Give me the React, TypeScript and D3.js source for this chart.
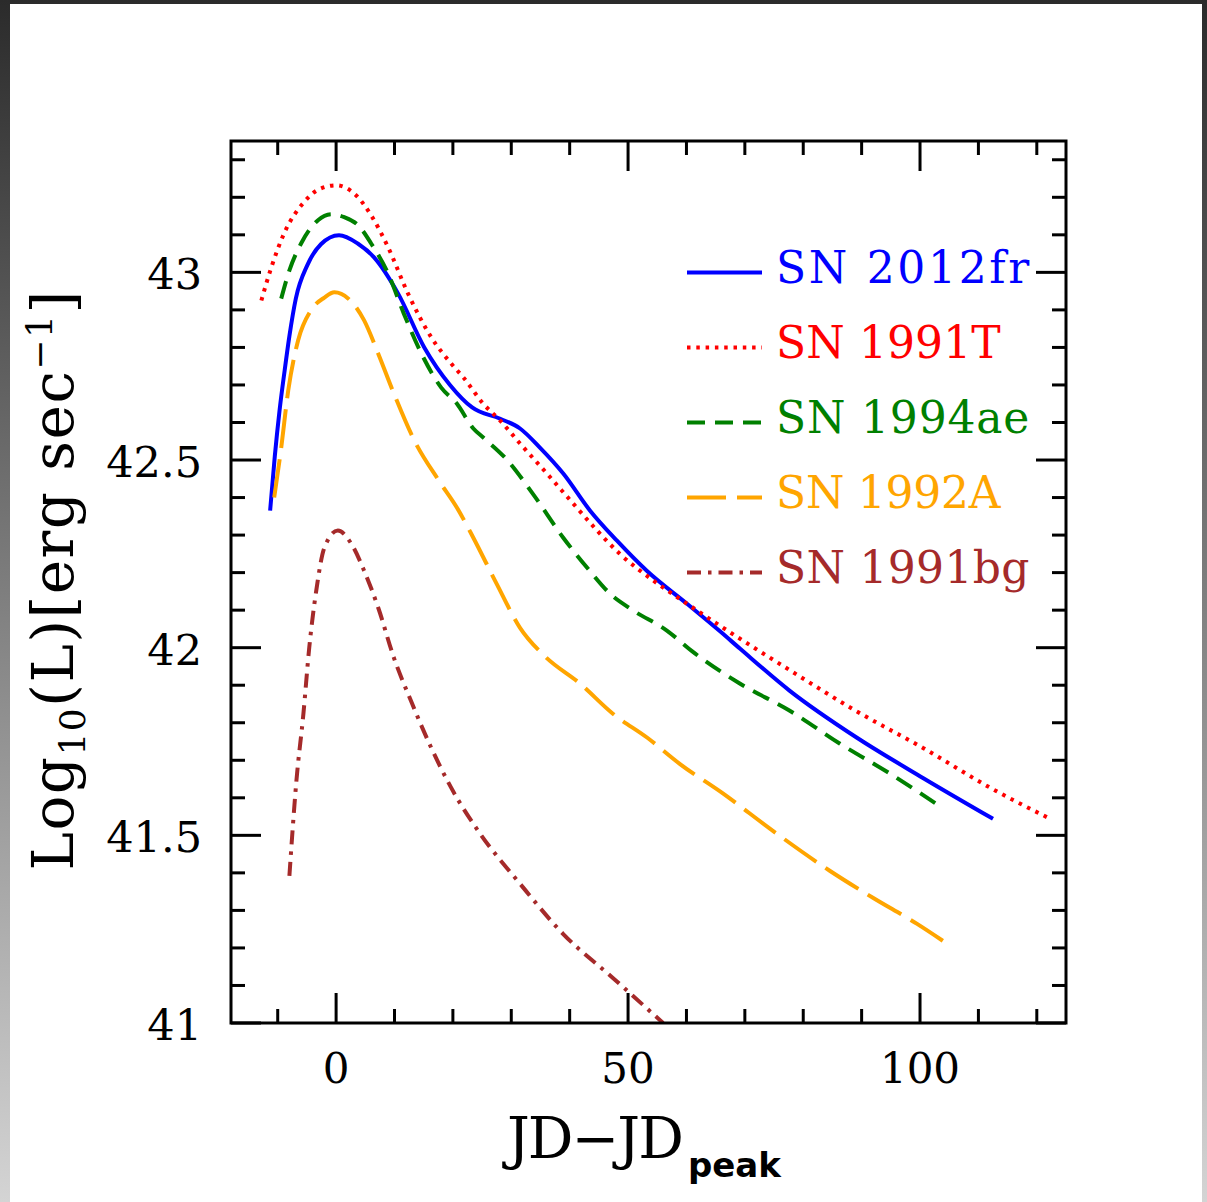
import React from "react";
import * as d3 from "d3";

const W = 1207;
const H = 1202;

// ---- data ----
const t2012fr = [-11.3, -10.5, -9.7, -8.8, -8, -6.9, -4.9, -2.6, 0.5, 3.7, 6.5, 10.6, 15.1, 19.5, 23.3, 28.1, 31.5, 34.9, 38.9, 43.5, 48.1, 53.2, 60.1, 65.8, 69.2, 77.7, 89.2, 100.5, 112.5];
const L2012fr = [42.365, 42.51, 42.63, 42.74, 42.83, 42.93, 43.02, 43.075, 43.099, 43.077, 43.04, 42.944, 42.8, 42.7, 42.64, 42.61, 42.584, 42.533, 42.464, 42.365, 42.285, 42.205, 42.117, 42.043, 41.997, 41.885, 41.76, 41.653, 41.544];

const t1991T = [-12.8, -11.1, -8.9, -5.5, -3.1, 0, 3.1, 6.0, 8.9, 12.3, 16.3, 19.7, 21.8, 25.2, 28.1, 31.5, 36.1, 40.6, 44.7, 48.6, 54.3, 60.1, 65.2, 77.7, 89.2, 100.5, 112, 122.3];
const L1991T = [42.925, 43.013, 43.104, 43.187, 43.22, 43.232, 43.21, 43.152, 43.067, 42.944, 42.827, 42.757, 42.72, 42.65, 42.605, 42.544, 42.464, 42.384, 42.312, 42.25, 42.179, 42.117, 42.064, 41.94, 41.83, 41.733, 41.627, 41.544];

const t1994ae = [-9.4, -8, -6, -3.1, -0.8, 1.4, 3.8, 6, 8.9, 11.6, 14.6, 18, 20.7, 23.5, 25.2, 29.3, 33.7, 38.9, 43, 46.9, 50.9, 56.7, 61, 69.2, 77.7, 86.3, 94.9, 103.8];
const L1994ae = [42.93, 43.005, 43.077, 43.139, 43.155, 43.147, 43.125, 43.077, 42.997, 42.89, 42.784, 42.693, 42.65, 42.584, 42.56, 42.5, 42.41, 42.293, 42.213, 42.144, 42.099, 42.045, 41.99, 41.904, 41.832, 41.744, 41.664, 41.573];

const t1992A = [-10.6, -9.4, -8.2, -6.5, -4.3, -2, -0.3, 2.1, 4.8, 7.2, 9.9, 13.4, 17.6, 20.7, 23.5, 27.5, 31.5, 35.7, 41.8, 47.4, 53.3, 58.9, 66.3, 74.8, 84.6, 92, 99.5, 103.9];
const L1992A = [42.4, 42.533, 42.685, 42.819, 42.899, 42.933, 42.947, 42.93, 42.872, 42.784, 42.677, 42.552, 42.445, 42.373, 42.293, 42.17, 42.053, 41.978, 41.904, 41.824, 41.76, 41.69, 41.611, 41.512, 41.405, 41.333, 41.264, 41.219];

const t1991bg = [-8, -6.8, -5.6, -4.6, -3.4, -2, 0.3, 2.6, 4.8, 7.2, 9.9, 12.8, 16.3, 19.7, 24.5, 31.5, 38.9, 47.4, 56];
const L1991bg = [41.392, 41.645, 41.824, 42.0, 42.152, 42.267, 42.312, 42.277, 42.205, 42.107, 41.973, 41.859, 41.733, 41.627, 41.508, 41.371, 41.237, 41.12, 41.0];

const seriesNames = ["SN 2012fr", "SN 1991T", "SN 1994ae", "SN 1992A", "SN 1991bg"];
const seriesT = [t2012fr, t1991T, t1994ae, t1992A, t1991bg];
const seriesL = [L2012fr, L1991T, L1994ae, L1992A, L1991bg];
const seriesColors = ["#0000ff", "#ff0000", "#008000", "#ffa500", "#a52a2a"];
const seriesDash = ["none", "3.5,5.8", "18,10", "39,11", "14,7,3.5,7"];

const xDomain = [-18, 125];
const yDomain = [41, 43.35];
const xMajorTicks = [0, 50, 100];
const xTickLabels = ["0", "50", "100"];
const xMinorTicks = [-10, 10, 20, 30, 40, 60, 70, 80, 90, 110, 120];
const yMajorTicks = [41, 41.5, 42, 42.5, 43];
const yTickLabels = ["41", "41.5", "42", "42.5", "43"];
const yMinorTicks = [41.1, 41.2, 41.3, 41.4, 41.6, 41.7, 41.8, 41.9, 42.1, 42.2, 42.3, 42.4, 42.6, 42.7, 42.8, 42.9, 43.1, 43.2, 43.3];

// ---- layout ----
const PL = 231, PR = 1066, PT = 141, PB = 1023;
const MAJ = 30, MIN = 14;

export default function App() {
  const x = d3.scaleLinear().domain(xDomain).range([PL, PR]);
  const y = d3.scaleLinear().domain(yDomain).range([PB, PT]);

  const paths = seriesT.map((ts, s) => {
    const pts: [number, number][] = ts.map((t, i) => [x(t), y(seriesL[s][i])]);
    return d3.line().curve(d3.curveMonotoneX)(pts) || "";
  });

  const serif = "'DejaVu Serif', serif";
  const legX0 = 687, legX1 = 762, legTextX = 776, legY0 = 272.5, legDY = 75;

  return (
    <div style={{ position: "absolute", left: 0, top: 0 }}>
      <svg width={W} height={H} viewBox={`0 0 ${W} ${H}`} style={{ display: "block" }}>
        <defs>
          <linearGradient id="bg" x1="0" y1="0" x2="0" y2="1">
            <stop offset="0" stopColor="#2b2b2b" />
            <stop offset="1" stopColor="#d4d4d4" />
          </linearGradient>
          <clipPath id="plotclip">
            <rect x={PL} y={PT} width={PR - PL} height={PB - PT} />
          </clipPath>
        </defs>
        <rect x={0} y={0} width={W} height={H} fill="url(#bg)" />
        <rect x={10} y={4} width={1192} height={H - 4} fill="#ffffff" />

        {/* curves */}
        <g clipPath="url(#plotclip)" fill="none">
          {paths.map((d, s) => (
            <path
              key={s}
              d={d}
              stroke={seriesColors[s]}
              strokeWidth={4}
              strokeDasharray={seriesDash[s]}
              strokeLinejoin="round"
            />
          ))}
        </g>

        {/* frame */}
        <rect x={PL} y={PT} width={PR - PL} height={PB - PT} fill="none" stroke="#000" strokeWidth={3} />

        {/* ticks */}
        <g stroke="#000" strokeWidth={3}>
          {xMajorTicks.map((v) => (
            <g key={"xm" + v}>
              <line x1={x(v)} x2={x(v)} y1={PB} y2={PB - MAJ} />
              <line x1={x(v)} x2={x(v)} y1={PT} y2={PT + MAJ} />
            </g>
          ))}
          {xMinorTicks.map((v) => (
            <g key={"xn" + v}>
              <line x1={x(v)} x2={x(v)} y1={PB} y2={PB - MIN} />
              <line x1={x(v)} x2={x(v)} y1={PT} y2={PT + MIN} />
            </g>
          ))}
          {yMajorTicks.map((v) => (
            <g key={"ym" + v}>
              <line x1={PL} x2={PL + MAJ} y1={y(v)} y2={y(v)} />
              <line x1={PR} x2={PR - MAJ} y1={y(v)} y2={y(v)} />
            </g>
          ))}
          {yMinorTicks.map((v) => (
            <g key={"yn" + v}>
              <line x1={PL} x2={PL + MIN} y1={y(v)} y2={y(v)} />
              <line x1={PR} x2={PR - MIN} y1={y(v)} y2={y(v)} />
            </g>
          ))}
        </g>

        {/* tick labels */}
        <g fontFamily={serif} fill="#000">
          {xMajorTicks.map((v, i) => (
            <text key={"xl" + v} x={x(v)} y={1083} fontSize={42} textAnchor="middle">
              {xTickLabels[i]}
            </text>
          ))}
          {yMajorTicks.map((v, i) => (
            <text key={"yl" + v} x={202} y={y(v) + 17} fontSize={43} textAnchor="end">
              {yTickLabels[i]}
            </text>
          ))}
        </g>

        {/* axis titles */}
        <text x={507} y={1158} fontFamily={serif} fontSize={57} letterSpacing={-2} fill="#000">
          JD−JD
          <tspan dx={6} dy={19} fontFamily="'DejaVu Sans', sans-serif" fontWeight="bold" fontSize={34} letterSpacing={0}>
            peak
          </tspan>
        </text>
        <text
          transform="translate(73,580) rotate(-90)"
          textAnchor="middle"
          fontFamily={serif}
          fontSize={58}
          letterSpacing={1.5}
          fill="#000"
        >
          Log
          <tspan fontSize={36} dy={12}>10</tspan>
          <tspan dy={-12}>(L)[erg sec</tspan>
          <tspan fontSize={36} dy={-21}>−1</tspan>
          <tspan dy={21}>]</tspan>
        </text>

        {/* legend */}
        <g>
          {seriesNames.map((name, s) => {
            const ly = legY0 + s * legDY;
            return (
              <g key={name}>
                <line
                  x1={legX0}
                  x2={legX1}
                  y1={ly}
                  y2={ly}
                  stroke={seriesColors[s]}
                  strokeWidth={4}
                  strokeDasharray={seriesDash[s]}
                />
                <text
                  x={legTextX}
                  y={ly + 10}
                  fontFamily={serif}
                  fontSize={44}
                  fill={seriesColors[s]}
                  textLength={name.length * 28.7 - 5}
                  lengthAdjust="spacing"
                >
                  {name}
                </text>
              </g>
            );
          })}
        </g>
      </svg>
    </div>
  );
}
